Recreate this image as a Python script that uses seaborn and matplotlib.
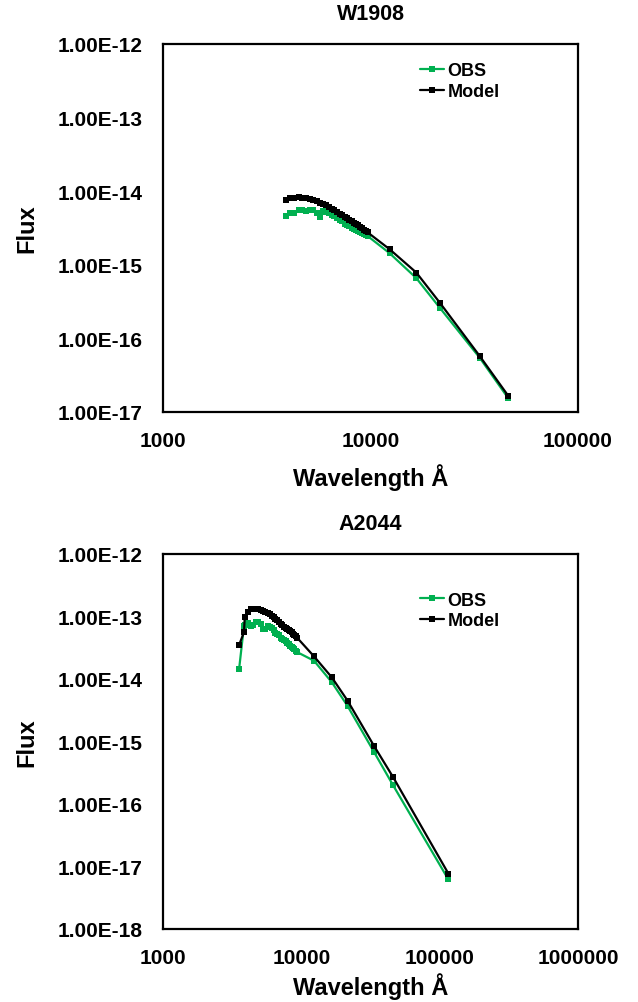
import numpy as np
import pandas as pd
import matplotlib
matplotlib.use("Agg")
import matplotlib.pyplot as plt
import seaborn as sns

# ---------------- data ----------------
# W1908
w1_wave = [3900, 4100, 4300, 4500, 4700, 4900, 5100, 5300, 5500, 5700,
           5900, 6100, 6300, 6500, 6700, 6900, 7100, 7300, 7500, 7700,
           7900, 8100, 8300, 8500, 8700, 8900, 9100, 9300, 9500, 9700,
           12350, 16620, 21590, 33526, 46028]
w1_obs = [4.6e-15, 5.0e-15, 5.1e-15, 5.5e-15, 5.6e-15, 5.4e-15, 5.6e-15, 5.5e-15, 5.0e-15, 4.5e-15,
          5.3e-15, 5.2e-15, 5.0e-15, 4.8e-15, 4.6e-15, 4.3e-15, 4.1e-15, 3.9e-15, 3.6e-15, 3.5e-15,
          3.35e-15, 3.2e-15, 3.1e-15, 3.0e-15, 2.9e-15, 2.8e-15, 2.7e-15, 2.6e-15, 2.55e-15, 2.45e-15,
          1.44e-15, 6.6e-16, 2.6e-16, 5.5e-17, 1.55e-17]
w1_model = [7.5e-15, 8.0e-15, 8.2e-15, 8.3e-15, 8.2e-15, 8.1e-15, 7.9e-15, 7.6e-15, 7.3e-15, 7.0e-15,
            6.7e-15, 6.4e-15, 6.1e-15, 5.8e-15, 5.5e-15, 5.2e-15, 4.95e-15, 4.7e-15, 4.5e-15, 4.3e-15,
            4.1e-15, 3.9e-15, 3.75e-15, 3.6e-15, 3.45e-15, 3.3e-15, 3.15e-15, 3.0e-15, 2.9e-15, 2.75e-15,
            1.63e-15, 7.85e-16, 3.05e-16, 5.8e-17, 1.67e-17]

# A2044
a2_wave = [3550, 3850, 3900, 4100, 4300, 4500, 4700, 4900, 5100, 5300, 5500,
           5700, 5900, 6100, 6300, 6500, 6700, 6900, 7100, 7300, 7500,
           7700, 7900, 8100, 8300, 8500, 8700, 8900, 9100, 9300,
           12350, 16620, 21590, 33526, 46028, 115608]
a2_obs = [1.45e-14, 7.1e-14, 7.4e-14, 7.8e-14, 7.0e-14, 7.2e-14, 8.2e-14, 8.3e-14, 7.7e-14, 6.4e-14, 6.3e-14,
          7.0e-14, 6.8e-14, 6.5e-14, 6.0e-14, 5.5e-14, 5.2e-14, 5.0e-14, 4.6e-14, 4.4e-14, 4.2e-14,
          4.0e-14, 3.8e-14, 3.6e-14, 3.4e-14, 3.2e-14, 3.1e-14, 3.0e-14, 2.8e-14, 2.7e-14,
          1.96e-14, 8.85e-15, 3.7e-15, 6.8e-16, 2.0e-16, 6.2e-18]
a2_model = [3.5e-14, 5.6e-14, 1.0e-13, 1.2e-13, 1.3e-13, 1.33e-13, 1.34e-13, 1.32e-13, 1.28e-13, 1.24e-13, 1.2e-13,
            1.14e-13, 1.09e-13, 1.03e-13, 9.7e-14, 9.2e-14, 8.7e-14, 8.2e-14, 7.7e-14, 7.2e-14, 6.9e-14,
            6.6e-14, 6.3e-14, 6.0e-14, 5.8e-14, 5.55e-14, 5.3e-14, 5.05e-14, 4.8e-14, 4.6e-14,
            2.3e-14, 1.06e-14, 4.5e-15, 8.5e-16, 2.7e-16, 7.7e-18]

titles = ["W1908", "A2044"]
series_names = ["OBS", "Model"]
top_xticks = [1000, 10000, 100000]
bot_xticks = [1000, 10000, 100000, 1000000]
top_yticks = [1e-17, 1e-16, 1e-15, 1e-14, 1e-13, 1e-12]
top_ylabels = ["1.00E-17", "1.00E-16", "1.00E-15", "1.00E-14", "1.00E-13", "1.00E-12"]
bot_yticks = [1e-18, 1e-17, 1e-16, 1e-15, 1e-14, 1e-13, 1e-12]
bot_ylabels = ["1.00E-18", "1.00E-17", "1.00E-16", "1.00E-15", "1.00E-14", "1.00E-13", "1.00E-12"]

# ---------------- style ----------------
sns.set_theme(style="white")
plt.rcParams['font.family'] = ['Liberation Sans', 'DejaVu Sans']
plt.rcParams['font.weight'] = 'bold'
plt.rcParams['text.color'] = 'black'
plt.rcParams['axes.labelcolor'] = 'black'
plt.rcParams['xtick.color'] = 'black'
plt.rcParams['ytick.color'] = 'black'

GREEN = "#00B050"
BLACK = "#000000"

fig = plt.figure(figsize=(6.38, 10.03), dpi=100)
ax1 = fig.add_axes([163/638, 1-413/1003, 415/638, 368/1003])
ax2 = fig.add_axes([163/638, 1-930/1003, 415/638, 375/1003])


def draw(ax, wave, obs, model, title, xticks, yticks, ylabels, xlim, ylim, leg_anchor, xl_y):
    df_o = pd.DataFrame({"wave": wave, "flux": obs})
    df_m = pd.DataFrame({"wave": wave, "flux": model})
    sns.lineplot(data=df_o, x="wave", y="flux", ax=ax, color=GREEN, marker="s",
                 markersize=5, markeredgewidth=0, linewidth=1.6, sort=False,
                 estimator=None, label=series_names[0])
    sns.lineplot(data=df_m, x="wave", y="flux", ax=ax, color=BLACK, marker="s",
                 markersize=5, markeredgewidth=0, linewidth=1.6, sort=False,
                 estimator=None, label=series_names[1])
    ax.set_xscale("log")
    ax.set_yscale("log")
    ax.set_xlim(*xlim)
    ax.set_ylim(*ylim)
    ax.set_xticks(xticks)
    ax.set_xticklabels([str(t) for t in xticks])
    ax.set_yticks(yticks)
    ax.set_yticklabels(ylabels)
    ax.minorticks_off()
    ax.tick_params(axis="both", which="major", direction="in", length=5, width=1.5,
                   labelsize=15, color="black", labelcolor="black")
    ax.tick_params(axis="y", pad=15)
    ax.tick_params(axis="x", pad=14)
    for lab in ax.get_xticklabels() + ax.get_yticklabels():
        lab.set_fontweight("bold")
        lab.set_color("black")
    for s in ax.spines.values():
        s.set_color("black")
        s.set_linewidth(1.6)
    ax.set_title(title, fontsize=15.5, fontweight="bold", pad=18, color="black")
    ax.set_xlabel("Wavelength Å", fontsize=17, fontweight="bold", color="black")
    ax.set_ylabel("Flux", fontsize=17, fontweight="bold", color="black")
    ax.xaxis.set_label_coords(0.5, xl_y)
    ax.yaxis.set_label_coords(-0.30, 0.5)
    ax.grid(False)
    leg = ax.legend(loc="upper left", bbox_to_anchor=leg_anchor, frameon=False,
                    borderpad=0, borderaxespad=0, handlelength=1.3, handletextpad=0.2,
                    labelspacing=0.2, prop={"weight": "bold", "size": 13}, numpoints=1)
    for t in leg.get_texts():
        t.set_color("black")


draw(ax1, w1_wave, w1_obs, w1_model, titles[0], top_xticks, top_yticks, top_ylabels,
     (1000, 100000), (1e-17, 1e-12), (0.62, 0.95), -0.14)
draw(ax2, a2_wave, a2_obs, a2_model, titles[1], bot_xticks, bot_yticks, bot_ylabels,
     (1000, 1000000), (1e-18, 1e-12), (0.62, 0.90), -0.115)

fig.savefig("out.png", dpi=100)
